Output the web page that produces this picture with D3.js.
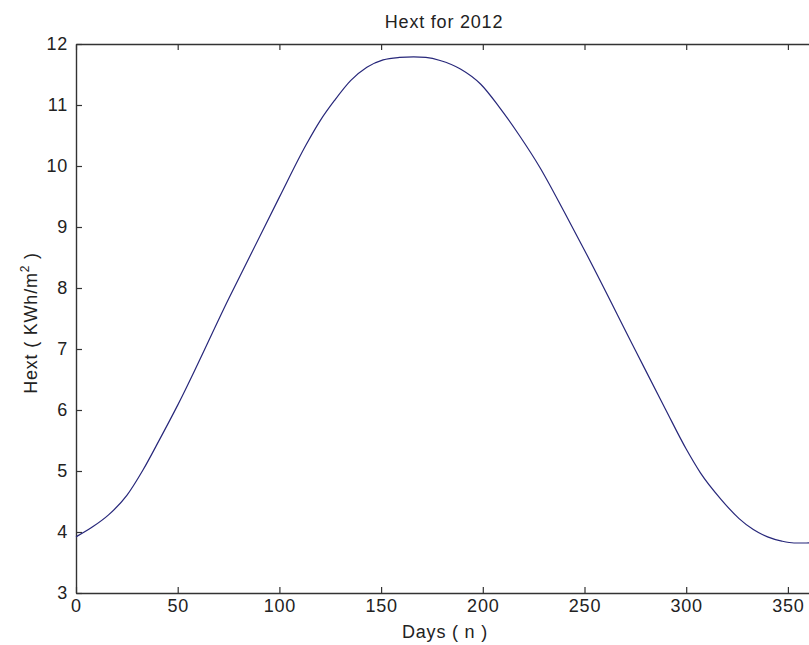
<!DOCTYPE html>
<html>
<head>
<meta charset="utf-8">
<script src="https://cdn.jsdelivr.net/npm/d3@7"></script>
<style>
  body { margin: 0; background: #fff; }
  text { font-family: "Liberation Sans", Arial, sans-serif; fill: #222; letter-spacing: 0.8px; }
</style>
</head>
<body>
<div id="chart"></div>
<script>
// values
var days = [0, 8, 16, 25, 33, 41, 50, 75, 100, 113, 120, 127, 135, 143, 151, 159, 166, 172, 179, 189, 199, 208, 218, 228, 240, 250, 275, 290, 300, 307, 317, 326, 333, 340, 347, 353, 359, 366];
var hext = [3.92, 4.08, 4.28, 4.6, 5.02, 5.51, 6.08, 7.82, 9.49, 10.34, 10.74, 11.07, 11.4, 11.62, 11.74, 11.78, 11.79, 11.78, 11.73, 11.59, 11.34, 10.97, 10.5, 9.98, 9.25, 8.62, 6.98, 6.0, 5.36, 4.97, 4.54, 4.22, 4.04, 3.92, 3.85, 3.82, 3.82, 3.83];
var xTicks = [0, 50, 100, 150, 200, 250, 300, 350];
var yTicks = [3, 4, 5, 6, 7, 8, 9, 10, 11, 12];

var svgW = 809, svgH = 645;
var plotLeft = 76, plotTop = 44, plotBottom = 593;
var pxPerDay = 2.034;
var plotRight = plotLeft + 366 * pxPerDay;

var svg = d3.select("#chart").append("svg")
  .attr("width", svgW)
  .attr("height", svgH);

var x = d3.scaleLinear().domain([0, 366]).range([plotLeft, plotRight]);
var y = d3.scaleLinear().domain([3, 12]).range([plotBottom, plotTop]);

var tickLen = 6;
var axisCol = "#333";
var fs = 18;

// bottom + top axis (ticks pointing inward, matlab style)
svg.append("g")
  .attr("transform", "translate(0," + plotBottom + ")")
  .call(d3.axisBottom(x).tickValues(xTicks).tickSize(-tickLen).tickPadding(10).tickSizeOuter(0))
  .call(function (g) {
    g.select(".domain").attr("stroke", axisCol).attr("stroke-width", 1.4);
    g.selectAll(".tick line").attr("stroke", axisCol).attr("stroke-width", 1.2);
    g.selectAll(".tick text").attr("font-size", fs).attr("dy", "0.5em");
  });

svg.append("g")
  .attr("transform", "translate(0," + plotTop + ")")
  .call(d3.axisTop(x).tickValues(xTicks).tickSize(-tickLen).tickFormat("").tickSizeOuter(0))
  .call(function (g) {
    g.select(".domain").attr("stroke", axisCol).attr("stroke-width", 1.4);
    g.selectAll(".tick line").attr("stroke", axisCol).attr("stroke-width", 1.2);
  });

// left axis
svg.append("g")
  .attr("transform", "translate(" + plotLeft + ",0)")
  .call(d3.axisLeft(y).tickValues(yTicks).tickSize(-tickLen).tickPadding(8).tickSizeOuter(0))
  .call(function (g) {
    g.select(".domain").attr("stroke", axisCol).attr("stroke-width", 1.4);
    g.selectAll(".tick line").attr("stroke", axisCol).attr("stroke-width", 1.2);
    g.selectAll(".tick text").attr("font-size", fs);
  });

// the curve
var line = d3.line()
  .x(function (d, i) { return x(days[i]); })
  .y(function (d) { return y(d); })
  .curve(d3.curveMonotoneX);

svg.append("path")
  .datum(hext)
  .attr("fill", "none")
  .attr("stroke", "#27277a")
  .attr("stroke-width", 1.2)
  .attr("d", line);

// titles
svg.append("text")
  .attr("x", 444)
  .attr("y", 28)
  .attr("text-anchor", "middle")
  .attr("font-size", fs)
  .text("Hext for 2012");

svg.append("text")
  .attr("x", 445)
  .attr("y", 638)
  .attr("text-anchor", "middle")
  .attr("font-size", fs)
  .text("Days ( n )");

var yl = svg.append("text")
  .attr("transform", "translate(37,323) rotate(-90)")
  .attr("text-anchor", "middle")
  .attr("font-size", fs);
yl.append("tspan").text("Hext ( KWh/m");
yl.append("tspan").attr("font-size", 12).attr("dy", -8).text("2");
yl.append("tspan").attr("dy", 8).text(" )");
</script>
</body>
</html>
